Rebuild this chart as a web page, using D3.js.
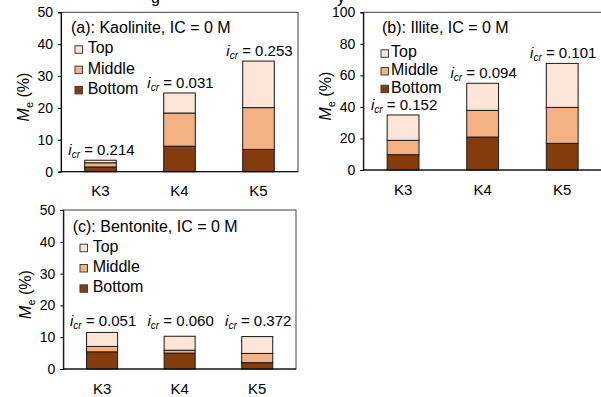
<!DOCTYPE html>
<html>
<head>
<meta charset="utf-8">
<script src="https://cdn.jsdelivr.net/npm/d3@7"></script>
<style>
  body { margin: 0; background: #fff; }
  svg { display: block; font-family: Arial, 'Liberation Sans', sans-serif; }
</style>
</head>
<body>
<svg width="601" height="397"></svg>
<script>
var categories = ['K3', 'K4', 'K5'];
var layers = ['Bottom', 'Middle', 'Top'];
var colors = {Top: '#fce4d6', Middle: '#f4b183', Bottom: '#843c0c'};

// kaolinite
var kaoBottom = [1.5, 8.0, 7.0];
var kaoMiddle = [1.3, 10.4, 13.1];
var kaoTop = [0.8, 6.3, 14.6];
var kaoIcr = ['0.214', '0.031', '0.253'];
// illite
var illBottom = [9.7, 20.9, 16.9];
var illMiddle = [9.1, 16.9, 22.8];
var illTop = [16.1, 17.2, 27.9];
var illIcr = ['0.152', '0.094', '0.101'];
// bentonite
var benBottom = [5.4, 5.0, 2.0];
var benMiddle = [1.7, 0.9, 2.9];
var benTop = [4.4, 4.4, 5.3];
var benIcr = ['0.051', '0.060', '0.372'];

var ticksA = [0, 10, 20, 30, 40, 50];
var ticksB = [0, 20, 40, 60, 80, 100];

function rows(b, m, t) {
  return categories.map((c, i) => ({cat: c, Bottom: b[i], Middle: m[i], Top: t[i]}));
}

var panels = [
  {title: '(a): Kaolinite, IC = 0 M', data: rows(kaoBottom, kaoMiddle, kaoTop), icr: kaoIcr,
   ymax: 50, ticks: ticksA, box: {l: 61, r: 298, t: 12.3, b: 171.7},
   titlePos: [71, 32.5], leg: {x: 75, tx: 87.7, y0: 53.3, dy: 20.3}, sameLabel: false},
  {title: '(b): Illite, IC = 0 M', data: rows(illBottom, illMiddle, illTop), icr: illIcr,
   ymax: 100, ticks: ticksB, box: {l: 363.3, r: 602, t: 12.3, b: 170},
   titlePos: [382, 33.3], leg: {x: 381, tx: 391, y0: 57.3, dy: 17.7}, sameLabel: false},
  {title: '(c): Bentonite, IC = 0 M', data: rows(benBottom, benMiddle, benTop), icr: benIcr,
   ymax: 50, ticks: ticksA, box: {l: 63.3, r: 296, t: 210, b: 369},
   titlePos: [72.7, 231.7], leg: {x: 80, tx: 92.7, y0: 251.7, dy: 20.3}, sameLabel: true}
];

var svg = d3.select('svg');

// heading above the figure, cropped by the picture edge
svg.append('text').attr('x', 151).attr('y', 3).attr('font-size', 16).text('g');
svg.append('text').attr('x', 337).attr('y', 3).attr('font-size', 16).text('y');

var stack = d3.stack().keys(layers);

panels.forEach(p => {
  var B = p.box;
  var x = d3.scaleBand().domain(categories).range([B.l, B.r]).paddingInner(0.6).paddingOuter(0.3);
  var y = d3.scaleLinear().domain([0, p.ymax]).range([B.b, B.t]);
  var g = svg.append('g');

  // plot frame
  g.append('rect')
    .attr('x', B.l).attr('y', y(p.ymax))
    .attr('width', B.r - B.l).attr('height', B.b - y(p.ymax))
    .attr('fill', 'none').attr('stroke', '#404040').attr('stroke-width', 1);

  var series = stack(p.data);
  g.selectAll('g.layer')
    .data(series)
    .enter().append('g')
    .attr('fill', d => colors[d.key])
    .selectAll('rect')
    .data(d => d)
    .enter().append('rect')
    .attr('x', d => x(d.data.cat))
    .attr('width', x.bandwidth())
    .attr('y', d => y(d[1]))
    .attr('height', d => y(d[0]) - y(d[1]))
    .attr('stroke', '#1a1a1a')
    .attr('stroke-width', 1);

  // axes
  var yAxis = d3.axisLeft(y).tickValues(p.ticks).tickSize(3).tickPadding(5);
  var ya = g.append('g').attr('transform', `translate(${B.l},0)`).call(yAxis);
  ya.select('.domain').attr('stroke', '#000');
  ya.selectAll('.tick line').attr('stroke', '#000');
  ya.selectAll('text').attr('font-size', 14).attr('font-family', 'Arial, Liberation Sans, sans-serif').attr('fill', '#000');

  g.append('line').attr('x1', B.l).attr('x2', B.r).attr('y1', B.b).attr('y2', B.b).attr('stroke', '#000');

  g.selectAll('text.cat')
    .data(categories)
    .enter().append('text')
    .attr('class', 'cat')
    .attr('x', d => x(d) + x.bandwidth() / 2)
    .attr('y', B.b + 24.5)
    .attr('text-anchor', 'middle')
    .attr('font-size', 15)
    .text(d => d);

  // y label
  var yl = g.append('text')
    .attr('transform', `translate(${B.l - 32},${(B.t + B.b) / 2 + 5}) rotate(-90)`)
    .attr('text-anchor', 'middle')
    .attr('font-size', 16);
  yl.append('tspan').attr('font-style', 'italic').text('M');
  yl.append('tspan').attr('font-size', 11).attr('dy', 4).text('e');
  yl.append('tspan').attr('dy', -4).text(' (%)');

  // panel title
  g.append('text')
    .attr('x', p.titlePos[0]).attr('y', p.titlePos[1])
    .attr('font-size', 16)
    .text(p.title);

  // legend
  var legKeys = ['Top', 'Middle', 'Bottom'];
  legKeys.forEach((k, i) => {
    var by = p.leg.y0 + i * p.leg.dy;
    g.append('rect')
      .attr('x', p.leg.x).attr('y', by - 7.5)
      .attr('width', 7.5).attr('height', 7.5)
      .attr('fill', colors[k]).attr('stroke', '#404040').attr('stroke-width', 1);
    g.append('text')
      .attr('x', p.leg.tx).attr('y', by)
      .attr('font-size', 16)
      .text(k);
  });

  // i_cr labels
  var totals = p.data.map(d => d.Bottom + d.Middle + d.Top);
  var maxTotal = d3.max(totals);
  p.data.forEach((d, i) => {
    var ty = p.sameLabel ? y(maxTotal) - 6.6 : y(totals[i]) - 5;
    var t = g.append('text')
      .attr('x', x(d.cat) + x.bandwidth() / 2 + 1)
      .attr('y', ty)
      .attr('text-anchor', 'middle')
      .attr('font-size', 15);
    t.append('tspan').attr('font-style', 'italic').text('i');
    t.append('tspan').attr('font-style', 'italic').attr('font-size', 10).attr('dy', 3).text('cr');
    t.append('tspan').attr('dy', -3).text(' = ' + p.icr[i]);
  });
});
</script>
</body>
</html>
